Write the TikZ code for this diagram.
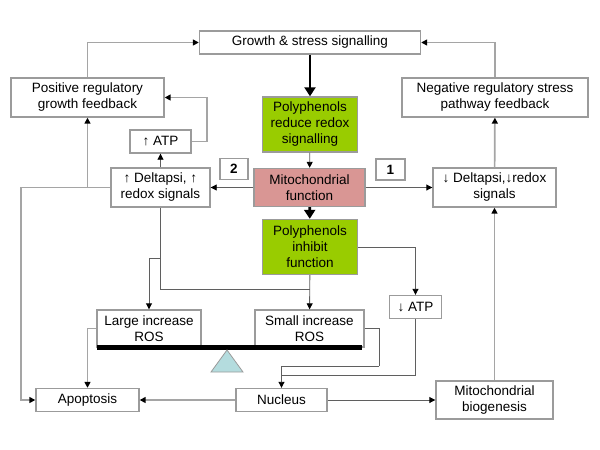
\documentclass[tikz,border=0pt]{standalone}
\usepackage{xcolor}
\usepackage{fontspec}
\setmainfont{Liberation Sans}
\usepackage{tikz}
\usetikzlibrary{calc, arrows.meta}
\definecolor{boxgray}{RGB}{155,155,155}
\definecolor{linegray}{RGB}{165,165,165}
\definecolor{darkline}{RGB}{95,95,95}
\definecolor{polygreen}{RGB}{153,204,0}
\definecolor{mitopink}{RGB}{217,150,148}
\definecolor{fulcrum}{RGB}{180,220,222}
\tikzset{
  box/.style={draw=boxgray, line width=1.4pt, fill=white, align=center, inner sep=1pt,
    font=\fontsize{13.5}{16}\selectfont},
  greenbox/.style={box, fill=polygreen},
  mitobox/.style={box, fill=mitopink},
  numbox/.style={box, font=\fontsize{13.5}{14}\selectfont\bfseries},
  link/.style={draw=linegray, line width=1.7pt},
  thinlink/.style={draw=darkline, line width=0.9pt},
  tip/.style={-{Triangle[length=6pt, width=6pt, color=black]}},
  bigtip/.style={draw=black, line width=2.8pt, -{Triangle[length=9pt, width=11pt]}}
}

\begin{document}
\begin{tikzpicture}[x=1pt, y=-1pt]
  \useasboundingbox (0,0) rectangle (600,450);

  \node[box, minimum width=221pt, minimum height=23pt] (growth) at (310,42.5) {Growth \& stress signalling};
  \node[box, minimum width=153pt, minimum height=39pt] (posfb) at (87.5,97.5) {Positive regulatory\\growth feedback};
  \node[box, minimum width=186pt, minimum height=39pt] (negfb) at (495,97.5) {Negative regulatory stress\\pathway feedback};
  \node[greenbox, minimum width=95pt, minimum height=55pt] (polyred) at (310,124.5) {Polyphenols\\reduce redox\\signalling};
  \node[box, minimum width=61pt, minimum height=23pt] (atpup) at (160.5,141.5) {↑ ATP};
  \node[numbox, minimum width=28pt, minimum height=21pt] (two) at (234,169) {2};
  \node[numbox, minimum width=29pt, minimum height=21pt] (one) at (390.5,169.5) {1};
  \node[box, minimum width=99pt, minimum height=39pt] (dpup) at (160.5,187.5) {↑ Deltapsi, ↑\\redox signals};
  \node[mitobox, minimum width=111pt, minimum height=38pt] (mito) at (309.5,187.5) {Mitochondrial\\function};
  \node[box, minimum width=123pt, minimum height=39pt] (dpdown) at (494.5,187.5) {↓ Deltapsi,↓redox\\signals};
  \node[greenbox, minimum width=95pt, minimum height=55pt] (polyinh) at (310,247) {Polyphenols\\inhibit\\function};
  \node[box, minimum width=52pt, minimum height=23pt] (atpdown) at (415.5,307) {↓ ATP};
  \node[box, minimum width=104pt, minimum height=37pt] (large) at (149,328.5) {Large increase\\ROS};
  \node[box, minimum width=109pt, minimum height=37pt] (small) at (309.5,328.5) {Small increase\\ROS};
  \node[box, minimum width=103pt, minimum height=23pt] (apop) at (87.5,400) {Apoptosis};
  \node[box, minimum width=91pt, minimum height=23pt] (nucleus) at (281.5,400) {Nucleus};
  \node[box, minimum width=117pt, minimum height=38pt] (biogen) at (494.5,400) {Mitochondrial\\biogenesis};

  \coordinate (split) at (160.5,258);
  \coordinate (merge) at (310,289);
  \coordinate (rosjoin) at (379,366);
  \coordinate (atpjoin) at (415.5,375);

  \fill[black] (97,345) rectangle (362,350);
  \draw[boxgray, fill=fulcrum, line width=0.8pt] (227,350) -- (211,372) -- (243,372) -- cycle;

  \draw[bigtip] (growth) -- (polyred);
  \draw[bigtip] (mito) -- (polyinh);
  \draw[thinlink, tip] (polyred) -- (mito);
  \draw[thinlink, tip] (mito.west) -- (dpup.east);
  \draw[thinlink, tip] (mito.east) -- (dpdown.west);
  \draw[thinlink, tip] (dpup) -- (atpup);
  \draw[link, tip] (atpup.east) -- ++(15,0) |- (posfb.east);
  \draw[link, tip] (dpup.west) -| (posfb.south);
  \draw[link, tip] (dpup.west) -- ++(-89,0) |- (apop.west);
  \draw[thinlink] (dpup.south) |- (merge);
  \draw[thinlink, tip] (split) -| (large.north);
  \draw[thinlink, tip] (polyinh) -- (small);
  \draw[thinlink, tip] (polyinh.east) -| (atpdown.north);
  \draw[thinlink] (small.east) -| (rosjoin);
  \draw[thinlink, tip] (rosjoin) -| (nucleus.north);
  \draw[thinlink] (atpdown.south) -- (atpjoin) -- (atpjoin -| nucleus.north);
  \draw[link, tip] (large.west) -| (apop.north);
  \draw[link, tip, {Triangle[length=6pt, width=6pt, color=black]}-] (apop) -- (nucleus);
  \draw[thinlink, tip] (nucleus) -- (biogen);
  \draw[link, tip] (biogen) -- (dpdown);
  \draw[link, tip] (dpdown) -- (negfb);
  \draw[link, tip] (negfb.north) |- (growth.east);
  \draw[link, tip] (posfb.north) |- (growth.west);
\end{tikzpicture}
\end{document}
